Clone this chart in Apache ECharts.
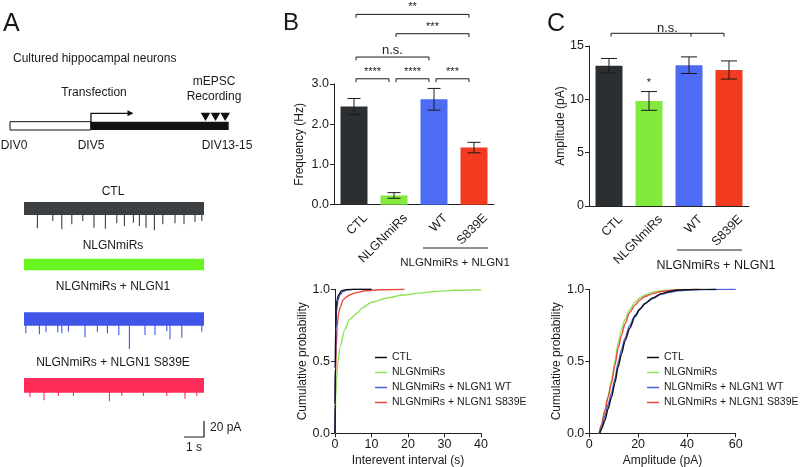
<!DOCTYPE html>
<html><head><meta charset="utf-8">
<script src="https://cdn.jsdelivr.net/npm/echarts@6/dist/echarts.min.js"></script>
<style>html,body{margin:0;padding:0;background:#fff}#c{width:800px;height:467px}</style>
</head><body><div id="c"></div>
<script>
// ---------------- DATA ----------------
const groups = ['CTL', 'NLGNmiRs', 'WT', 'S839E'];
const freqMean = [2.44, 0.23, 2.62, 1.42];   // Hz
const freqSem  = [0.20, 0.07, 0.27, 0.13];
const ampMean  = [13.15, 9.85, 13.2, 12.75]; // pA
const ampSem   = [0.68, 0.88, 0.78, 0.85];
const freqTicks = [0, 1, 2, 3];
const ampTicks  = [0, 5, 10, 15];
const probTicks = [0, 0.5, 1];
const ieiTicks  = [0, 10, 20, 30, 40];
const ampCdfTicks = [0, 20, 40, 60];
// significance: [fromIdx, toIdx, level (axis units), label]
const freqSig = [[0,1,3.13,'****'],[1,2,3.13,'****'],[2,3,3.13,'***'],[0,2,3.67,'n.s.'],[1,3,4.25,'***'],[0,3,4.73,'**']];
const ampSig  = [[0,3,16.19,'n.s.',2]];
const ampStar = [[1,'*']];
const cdfNames = ['CTL', 'NLGNmiRs', 'NLGNmiRs + NLGN1 WT', 'NLGNmiRs + NLGN1 S839E'];
// cumulative distributions: interevent interval (s)
const ieiCTL = [[0,0],[0.03,0.2],[0.08,0.45],[0.17,0.72],[0.34,0.88],[0.6,0.93],[0.95,0.96],[1.8,0.99],[3,0.998],[5,1],[10,1]];
const ieiMiR = [[0,0],[0.03,0.05],[0.09,0.14],[0.2,0.25],[0.43,0.37],[0.78,0.49],[1.38,0.6],[2.68,0.72],[3.97,0.79],[6.1,0.835],[7.4,0.87],[10,0.91],[14.3,0.94],[18.6,0.96],[23.8,0.975],[27.2,0.985],[33,0.993],[40,0.997]];
const ieiWT  = [[0,0],[0.04,0.2],[0.1,0.45],[0.22,0.7],[0.45,0.85],[0.8,0.92],[1.3,0.96],[2.2,0.985],[3.5,0.996],[5,1],[10,1]];
const ieiSE  = [[0,0],[0.05,0.2],[0.15,0.4],[0.34,0.6],[0.6,0.74],[0.95,0.83],[1.5,0.88],[2.2,0.926],[3,0.945],[4,0.96],[5.5,0.975],[8.3,0.99],[12,0.997],[19,1]];
// cumulative distributions: amplitude (pA)
const ampCTL = [[4.3,0],[5,0.03],[6.4,0.09],[7.7,0.17],[9.1,0.25],[10.5,0.35],[11.8,0.46],[13.2,0.55],[14.6,0.64],[16.6,0.73],[18.7,0.81],[20.7,0.86],[22.7,0.9],[26,0.94],[29.5,0.97],[33,0.985],[36.3,0.995],[42,0.999],[52,1]];
const ampMiR = [[4,0],[5,0.06],[6.4,0.16],[7.7,0.26],[9.1,0.37],[10.5,0.5],[11.8,0.625],[13.2,0.72],[14.6,0.79],[16.6,0.86],[18.7,0.91],[20.7,0.94],[22.7,0.96],[26,0.98],[29.5,0.99],[35.5,0.998],[40,1]];
const ampWT  = [[4.3,0],[5,0.04],[6.4,0.12],[7.7,0.2],[9.1,0.28],[10.5,0.38],[11.8,0.49],[13.2,0.58],[14.6,0.66],[16.6,0.75],[18.7,0.82],[20.7,0.865],[22.7,0.9],[26,0.935],[29.5,0.965],[33,0.98],[36.3,0.99],[42,0.997],[50,0.999],[60,1]];
const ampSE  = [[4,0],[5,0.06],[6.4,0.16],[7.7,0.25],[9.1,0.35],[10.5,0.47],[11.8,0.59],[13.2,0.68],[14.6,0.76],[16.6,0.84],[18.7,0.89],[20.7,0.925],[22.7,0.95],[26,0.97],[29.5,0.985],[35,0.995],[45,1]];
// example traces: events [time s, amplitude pA]
const traceTitles = ['CTL', 'NLGNmiRs', 'NLGNmiRs + NLGN1', 'NLGNmiRs + NLGN1 S839E'];
const traceDuration = 9;
const traceNoise = [8.1, 7.3, 8.4, 9.2];
const ctlEvents = [[0.67,24.8],[1.44,15.6],[1.89,26],[2.39,19.8],[2.94,15.6],[3.5,24],[4.07,25.2],[4.64,18.5],[5.02,21.9],[5.47,17.7],[5.77,21.9],[6.1,24],[6.52,27.3],[6.94,19.8],[7.55,18.5],[8.0,19.8],[8.55,16.9],[8.89,15.6]];
const mirEvents = [];
const wtEvents  = [[0.09,17.9],[0.77,19.2],[1.1,16.7],[1.69,16.7],[1.89,17.9],[2.22,15.8],[3.05,22.9],[3.67,15.8],[4.17,17.9],[4.74,20],[5.27,37.5],[6.05,20],[6.55,20],[7.14,15],[7.3,25.4],[7.89,23.3],[8.89,15.8]];
const seEvents  = [[0.3,14.6],[1.0,18.8],[1.72,13.3],[2.47,13.3],[4.27,20],[4.89,13.3],[5.97,13.3],[7.14,13.3],[8.05,16.7],[8.64,13.3]];
const scaleBarTime = 1;   // s
const scaleBarAmp = 20;   // pA

// ---------------- STYLE ----------------
const FONT = '"Liberation Sans", Arial, Helvetica, sans-serif';
const INK = '#1a1a1a';
const barColors = ['#2c2f31', '#84e93e', '#4d6cf3', '#f23b20'];
const traceColors = ['#3d4043', '#69f51f', '#3f55e8', '#ff2d58'];
const cdfColors = ['#111111', '#8fe35a', '#4b5fd6', '#e8473c'];
const traceEvents = [ctlEvents, mirEvents, wtEvents, seEvents];
const traceTops = [200.5, 256.5, 311, 377.3];

const grids = [];
const xAxes = [];
const yAxes = [];
const series = [];
function hiddenAxes(gi, xmin, xmax, ymin, ymax) {
  xAxes.push({gridIndex: gi, type: 'value', min: xmin, max: xmax, show: false});
  yAxes.push({gridIndex: gi, type: 'value', min: ymin, max: ymax, show: false});
}
// traces: grids 0..3
traceTitles.forEach((t, i) => {
  grids.push({left: 24, top: traceTops[i], width: 180, height: 40, outerBoundsMode: 'none'});
  hiddenAxes(i, 0, traceDuration, -40, 10);
  const noise = traceNoise[i], col = traceColors[i];
  series.push({type: 'custom', xAxisIndex: i, yAxisIndex: i, clip: false, silent: true,
    data: [[0, traceDuration, -noise, noise]],
    renderItem: (p, api) => {
      const a = api.coord([api.value(0), api.value(3)]);
      const b = api.coord([api.value(1), api.value(2)]);
      return {type: 'rect', shape: {x: a[0], y: a[1], width: b[0] - a[0], height: b[1] - a[1]}, style: {fill: col}};
    }});
  series.push({type: 'custom', xAxisIndex: i, yAxisIndex: i, clip: false, silent: true,
    data: traceEvents[i],
    renderItem: (p, api) => {
      const a = api.coord([api.value(0), 0]);
      const b = api.coord([api.value(0), -api.value(1)]);
      return {type: 'line', shape: {x1: a[0], y1: a[1], x2: b[0], y2: b[1]}, style: {stroke: col, lineWidth: 1.1}};
    }});
});
// scale bar: grid 4
grids.push({left: 24, top: 421, width: 180, height: 16, outerBoundsMode: 'none'});
hiddenAxes(4, 0, traceDuration, 0, scaleBarAmp);
series.push({type: 'custom', xAxisIndex: 4, yAxisIndex: 4, clip: false, silent: true,
  data: [[traceDuration - scaleBarTime, traceDuration, scaleBarAmp]],
  renderItem: (p, api) => {
    const a = api.coord([api.value(0), 0]);
    const b = api.coord([api.value(1), 0]);
    const c = api.coord([api.value(1), api.value(2)]);
    return {type: 'polyline', shape: {points: [a, b, c]}, style: {stroke: INK, lineWidth: 1.2, fill: null}};
  }});

function axisStyle() {
  return {
    axisLine: {show: true, onZero: false, lineStyle: {color: '#222', width: 1}},
    axisTick: {show: true, length: 4, lineStyle: {color: '#222', width: 1}},
    splitLine: {show: false},
  };
}
function valueAxis(gi, ticks, fmt, name, nameGap, extra) {
  return Object.assign({gridIndex: gi, type: 'value', min: ticks[0], max: ticks[ticks.length - 1],
    interval: ticks[1] - ticks[0]}, axisStyle(), {
    axisLabel: {formatter: fmt, fontSize: 12.5, color: INK, fontFamily: FONT, margin: 5},
    name: name, nameLocation: 'middle', nameGap: nameGap,
    nameTextStyle: {fontSize: 12, color: INK, fontFamily: FONT}}, extra || {});
}
// B bars: grid 5, C bars: grid 6
grids.push({left: 334, top: 84, width: 160, height: 120.7, outerBoundsMode: 'none'});
grids.push({left: 589, top: 46, width: 160, height: 160, outerBoundsMode: 'none'});
[5, 6].forEach(gi => xAxes.push(Object.assign({gridIndex: gi, type: 'category', data: groups}, axisStyle(),
  {axisTick: {show: false}, axisLabel: {show: false}})));
yAxes.push(valueAxis(5, freqTicks, v => v.toFixed(1), 'Frequency (Hz)', 28, {nameRotate: 90}));
yAxes.push(valueAxis(6, ampTicks, v => String(v), 'Amplitude (pA)', 20, {nameRotate: 90}));

function errRender(cap) {
  return (p, api) => {
    const lo = api.coord([api.value(0), api.value(1)]);
    const hi = api.coord([api.value(0), api.value(2)]);
    const x = lo[0];
    const st = {stroke: INK, lineWidth: 1};
    return {type: 'group', children: [
      {type: 'line', shape: {x1: x, y1: lo[1], x2: x, y2: hi[1]}, style: st},
      {type: 'line', shape: {x1: x - cap / 2, y1: lo[1], x2: x + cap / 2, y2: lo[1]}, style: st},
      {type: 'line', shape: {x1: x - cap / 2, y1: hi[1], x2: x + cap / 2, y2: hi[1]}, style: st}]};
  };
}
function sigRender(sig, textOfs, fontSize) {
  return (p, api) => {
    const s = sig[p.dataIndex];
    const a = api.coord([s[0], s[2]]), b = api.coord([s[1], s[2]]);
    const x1 = a[0] + 2, x2 = b[0] - 5, y = a[1];
    const st = {stroke: INK, lineWidth: 1, fill: null};
    const ch = [{type: 'polyline', shape: {points: [[x1, y + 3.3], [x1, y], [x2, y], [x2, y + 3.3]]}, style: st},
      {type: 'text', x: (x1 + x2) / 2, y: y - textOfs,
       style: {text: s[3], fontSize: s[3] === 'n.s.' ? 13 : fontSize, fontFamily: FONT, fill: INK, align: 'center', verticalAlign: 'middle'}}];
    if (s[4] !== undefined) {
      const m = api.coord([s[4], s[2]]);
      ch.push({type: 'line', shape: {x1: m[0] + 2, y1: y, x2: m[0] + 2, y2: y + 3.3}, style: st});
    }
    return {type: 'group', children: ch};
  };
}
const barDefs = [
  {gi: 5, mean: freqMean, sem: freqSem, cap: 13, sig: freqSig, ofs: 7},
  {gi: 6, mean: ampMean, sem: ampSem, cap: 16, sig: ampSig, ofs: 5.3}];
barDefs.forEach(d => {
  series.push({type: 'bar', xAxisIndex: d.gi, yAxisIndex: d.gi, barWidth: 27, silent: true,
    data: d.mean.map((v, i) => ({value: v, itemStyle: {color: barColors[i]}}))});
  series.push({type: 'custom', xAxisIndex: d.gi, yAxisIndex: d.gi, clip: false, silent: true, z: 5,
    data: d.mean.map((m, i) => [i, m - d.sem[i], m + d.sem[i]]), renderItem: errRender(d.cap)});
  series.push({type: 'custom', xAxisIndex: d.gi, yAxisIndex: d.gi, clip: false, silent: true,
    data: d.sig.map(s => [s[0], s[2]]), renderItem: sigRender(d.sig, d.ofs, 11)});
});
// star above NLGNmiRs amplitude
series.push({type: 'custom', xAxisIndex: 6, yAxisIndex: 6, clip: false, silent: true,
  data: ampStar.map(s => [s[0], ampMean[s[0]] + ampSem[s[0]]]),
  renderItem: (p, api) => {
    const c = api.coord([api.value(0), api.value(1)]);
    return {type: 'text', x: c[0], y: c[1] - 8.5, style: {text: ampStar[p.dataIndex][1], fontSize: 11, fontFamily: FONT, fill: INK, align: 'center', verticalAlign: 'middle'}};
  }});

// CDFs: grid 7 (B), grid 8 (C)
grids.push({left: 335, top: 289.3, width: 146, height: 144, outerBoundsMode: 'none'});
grids.push({left: 589.3, top: 289.3, width: 146.4, height: 144, outerBoundsMode: 'none'});
xAxes.push(valueAxis(7, ieiTicks, v => String(v), 'Interevent interval (s)', 21));
xAxes.push(valueAxis(8, ampCdfTicks, v => String(v), 'Amplitude (pA)', 21));
yAxes.push(valueAxis(7, probTicks, v => v.toFixed(1), 'Cumulative probability', 21, {nameRotate: 90}));
yAxes.push(valueAxis(8, probTicks, v => v.toFixed(1), 'Cumulative probability', 21, {nameRotate: 90}));
const cdfSets = [[7, [ieiCTL, ieiMiR, ieiWT, ieiSE]], [8, [ampCTL, ampMiR, ampWT, ampSE]]];
const drawOrder = [1, 3, 2, 0];
cdfSets.forEach(([gi, sets]) => {
  drawOrder.forEach(k => {
    series.push({type: 'line', name: cdfNames[k], xAxisIndex: gi, yAxisIndex: gi, data: sets[k],
      showSymbol: false, symbol: 'none', smooth: 0.25, smoothMonotone: 'x', silent: true,
      lineStyle: {color: cdfColors[k], width: 1.4}, itemStyle: {color: cdfColors[k], borderWidth: 0}});
  });
});
const LINE_ICON = 'path://M0,0L0.01,0L0,0.01Z M12,12L11.99,12L12,11.99Z M0,5.3L12,5.3L12,6.7L0,6.7Z';
const legendBase = {orient: 'vertical', data: cdfNames, icon: LINE_ICON, itemWidth: 12, itemHeight: 15, itemGap: 0,
  selectedMode: false, padding: 0, itemStyle: {borderWidth: 0},
  textStyle: {fontSize: 10.5, lineHeight: 15, color: INK, fontFamily: FONT}};

const option = {
  animation: false,
  backgroundColor: '#ffffff',
  textStyle: {fontFamily: FONT},
  grid: grids, xAxis: xAxes, yAxis: yAxes, series: series,
  legend: [Object.assign({left: 375, top: 350}, legendBase), Object.assign({left: 647, top: 350}, legendBase)],
};
const chart = echarts.init(document.getElementById('c'));
chart.setOption(option);

// ---------------- ANNOTATIONS ----------------
function txt(x, y, text, size, align, extra) {
  return Object.assign({type: 'text', x: x, y: y, silent: true,
    style: {text: text, fontSize: size, fontFamily: FONT, fill: INK, align: align || 'center', verticalAlign: 'middle'}}, extra || {});
}
const g = [];
// panel letters
g.push(txt(3, 24, 'A', 25, 'left'));
g.push(txt(283, 23.5, 'B', 24, 'left'));
g.push(txt(547, 24, 'C', 25, 'left'));
// schematic
g.push(txt(13, 59, 'Cultured hippocampal neurons', 12, 'left'));
g.push(txt(94, 92.3, 'Transfection', 12));
g.push(txt(214, 81.7, 'mEPSC', 12));
g.push(txt(214, 96.7, 'Recording', 12));
g.push({type: 'rect', shape: {x: 10, y: 121.7, width: 80.7, height: 8.3}, style: {fill: '#fff', stroke: '#111', lineWidth: 1}});
g.push({type: 'rect', shape: {x: 90.7, y: 121.7, width: 138, height: 8.3}, style: {fill: '#111'}});
g.push({type: 'polyline', shape: {points: [[91, 122], [91, 113.3], [128.5, 113.3]]}, style: {stroke: '#111', lineWidth: 1.3, fill: null}});
g.push({type: 'polygon', shape: {points: [[127.5, 110.3], [133.5, 113.3], [127.5, 116.3]]}, style: {fill: '#111'}});
[205.5, 215.5, 225.2].forEach(cx => g.push({type: 'polygon', shape: {points: [[cx - 4.8, 112.7], [cx + 4.8, 112.7], [cx, 120.9]]}, style: {fill: '#111'}}));
g.push(txt(14, 146, 'DIV0', 12));
g.push(txt(91, 146, 'DIV5', 12));
g.push(txt(227, 146, 'DIV13-15', 12));
// trace titles
const titleY = [192, 246, 287, 363];
traceTitles.forEach((t, i) => g.push(txt(113, titleY[i], t, 12)));
g.push(txt(210, 427.5, scaleBarAmp + ' pA', 12, 'left'));
g.push(txt(194, 447.5, scaleBarTime + ' s', 12));
// rotated category labels
[[5, 12.5], [6, 12.5]].forEach(([gi, fs]) => {
  groups.forEach(name => {
    const p = chart.convertToPixel({xAxisIndex: gi, yAxisIndex: gi}, [name, 0]);
    g.push(txt(p[0] + 11.5, p[1] + 11.5, name, fs, 'right', {rotation: Math.PI / 4}));
  });
});
// group lines
g.push({type: 'line', shape: {x1: 423, y1: 248, x2: 488, y2: 248}, style: {stroke: '#222', lineWidth: 1}});
g.push(txt(455, 263, 'NLGNmiRs + NLGN1', 11.5));
g.push({type: 'line', shape: {x1: 677, y1: 250, x2: 742, y2: 250}, style: {stroke: '#222', lineWidth: 1}});
g.push(txt(716, 266, 'NLGNmiRs + NLGN1', 12.5));
chart.setOption({graphic: {elements: g}});
</script>
</body></html>
